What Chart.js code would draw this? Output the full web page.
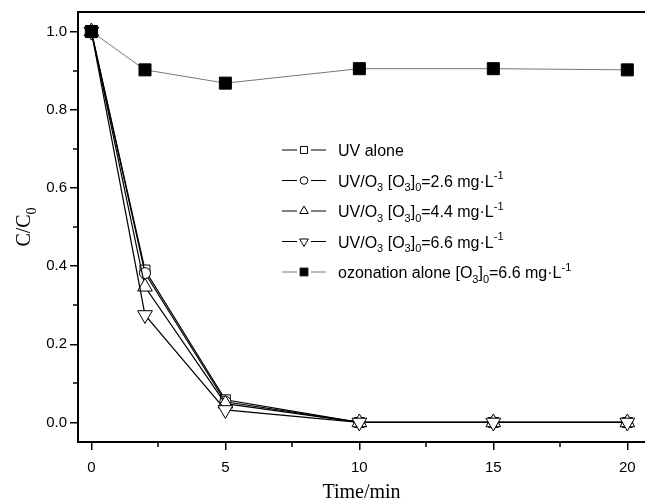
<!DOCTYPE html>
<html><head><meta charset="utf-8">
<script src="https://cdn.jsdelivr.net/npm/chart.js@4"></script>
<style>html,body{margin:0;padding:0;background:#fff;overflow:hidden}</style>
</head><body>
<canvas id="c" width="645" height="502"></canvas>
<script>
// ---- data ----
const times = [0, 2, 5, 10, 15, 20];
const uvAlone = [1.0, 0.39, 0.058, 0.0, 0.0, 0.0];
const uvO3Low = [1.0, 0.382, 0.053, 0.0, 0.0, 0.0];
const uvO3Mid = [1.0, 0.347, 0.048, 0.0, 0.0, 0.0];
const uvO3High = [1.0, 0.275, 0.032, 0.0, 0.0, 0.0];
const ozonationAlone = [1.0, 0.902, 0.868, 0.905, 0.905, 0.902];
const seriesNames = ['UV alone', 'UV/O3 [O3]0=2.6 mg·L-1', 'UV/O3 [O3]0=4.4 mg·L-1', 'UV/O3 [O3]0=6.6 mg·L-1', 'ozonation alone [O3]0=6.6 mg·L-1'];
// rich label pieces: n = normal, b = subscript, p = superscript
const legendParts = [
  [['UV alone','n']],
  [['UV/O','n'],['3','b'],[' [O','n'],['3','b'],[']','n'],['0','b'],['=2.6 mg·L','n'],['-1','p']],
  [['UV/O','n'],['3','b'],[' [O','n'],['3','b'],[']','n'],['0','b'],['=4.4 mg·L','n'],['-1','p']],
  [['UV/O','n'],['3','b'],[' [O','n'],['3','b'],[']','n'],['0','b'],['=6.6 mg·L','n'],['-1','p']],
  [['ozonation alone [O','n'],['3','b'],[']','n'],['0','b'],['=6.6 mg·L','n'],['-1','p']]
];
const yTitleParts = [['C/C','n'],['0','b']];
const xTitle = 'Time/min';
const xTicks = [0, 5, 10, 15, 20];
const yTicks = [0, 0.2, 0.4, 0.6, 0.8, 1.0];
const xMinorTicks = [2.5, 7.5, 12.5, 17.5];
const yMinorTicks = [0.1, 0.3, 0.5, 0.7, 0.9];

const seriesValues = [uvAlone, uvO3Low, uvO3Mid, uvO3High, ozonationAlone];
const styles = [
  {pointStyle:'rect', radius:7, rotation:0, fill:'#fff', line:'#000', lw:1.2, order:5, lr:5},
  {pointStyle:'circle', radius:5.5, rotation:0, fill:'#fff', line:'#000', lw:1.2, order:4, lr:3.8},
  {pointStyle:'triangle', radius:8.5, rotation:0, fill:'#fff', line:'#000', lw:1.2, order:3, lr:5},
  {pointStyle:'triangle', radius:8.5, rotation:180, fill:'#fff', line:'#000', lw:1.2, order:2, lr:5},
  {pointStyle:'rect', radius:8.5, rotation:0, fill:'#000', line:'#777', lw:1, order:1, lr:5.5}
];

const datasets = seriesValues.map((vals, i) => ({
  label: seriesNames[i],
  data: times.map((t, j) => ({x: t, y: vals[j]})),
  borderColor: styles[i].line,
  borderWidth: styles[i].lw,
  pointStyle: styles[i].pointStyle,
  pointRadius: styles[i].radius,
  pointRotation: styles[i].rotation,
  pointBackgroundColor: styles[i].fill,
  pointBorderColor: '#000',
  pointBorderWidth: 1,
  tension: 0,
  fill: false,
  order: styles[i].order,
  clip: false
}));

const SANS = '"Liberation Sans", Arial, sans-serif';
const SERIF = '"Liberation Serif", "Times New Roman", serif';

function richWidth(ctx, parts, size, family) {
  let w = 0;
  parts.forEach(([t, k]) => {
    const s = k === 'n' ? size : Math.round(size * 0.68);
    ctx.font = s + 'px ' + family;
    w += ctx.measureText(t).width;
  });
  return w;
}
function drawRich(ctx, parts, x, y, size, family) {
  ctx.textBaseline = 'alphabetic';
  ctx.textAlign = 'left';
  parts.forEach(([t, k]) => {
    const s = k === 'n' ? size : Math.round(size * 0.68);
    ctx.font = s + 'px ' + family;
    let dy = 0;
    if (k === 'b') dy = size * 0.3;
    if (k === 'p') dy = -size * 0.45;
    ctx.fillText(t, x, y + dy);
    x += ctx.measureText(t).width;
  });
}
function drawMarker(ctx, st, x, y, r) {
  ctx.save();
  ctx.beginPath();
  if (st.pointStyle === 'rect') {
    const h = r * Math.SQRT1_2;
    ctx.rect(x - h, y - h, 2 * h, 2 * h);
  } else if (st.pointStyle === 'circle') {
    ctx.arc(x, y, r, 0, Math.PI * 2);
  } else {
    const dir = st.rotation === 180 ? -1 : 1;
    ctx.moveTo(x, y - dir * r);
    ctx.lineTo(x + r * 0.866, y + dir * r * 0.5);
    ctx.lineTo(x - r * 0.866, y + dir * r * 0.5);
    ctx.closePath();
  }
  ctx.fillStyle = st.fill;
  ctx.fill();
  ctx.lineWidth = 1;
  ctx.strokeStyle = '#000';
  ctx.stroke();
  ctx.restore();
}

const decor = {
  id: 'decor',
  afterDraw(chart) {
    const ctx = chart.ctx;
    const a = chart.chartArea;
    const xs = chart.scales.x, ys = chart.scales.y;
    ctx.save();
    // top frame line
    ctx.strokeStyle = '#000';
    ctx.lineWidth = 2;
    ctx.beginPath();
    ctx.moveTo(a.left - 1, a.top);
    ctx.lineTo(chart.width, a.top);
    ctx.stroke();
    // minor ticks
    ctx.lineWidth = 1.5;
    ctx.beginPath();
    xMinorTicks.forEach(v => {
      const px = Math.round(xs.getPixelForValue(v));
      ctx.moveTo(px, a.bottom);
      ctx.lineTo(px, a.bottom + 5);
    });
    yMinorTicks.forEach(v => {
      const py = Math.round(ys.getPixelForValue(v));
      ctx.moveTo(a.left, py);
      ctx.lineTo(a.left - 5, py);
    });
    ctx.stroke();
    // legend
    const lx = a.left + 204, ly0 = a.top + 138, step = 30.5;
    legendParts.forEach((parts, i) => {
      const st = styles[i];
      const y = ly0 + i * step;
      ctx.strokeStyle = st.line;
      ctx.lineWidth = st.lw;
      ctx.beginPath();
      ctx.moveTo(lx, y); ctx.lineTo(lx + 15, y);
      ctx.moveTo(lx + 29, y); ctx.lineTo(lx + 44, y);
      ctx.stroke();
      drawMarker(ctx, st, lx + 22, y, st.lr);
      ctx.fillStyle = '#000';
      drawRich(ctx, parts, lx + 56, y + 6, 16, SANS);
    });
    // y title
    ctx.save();
    ctx.translate(30, (a.top + a.bottom) / 2);
    ctx.rotate(-Math.PI / 2);
    ctx.fillStyle = '#000';
    const w = richWidth(ctx, yTitleParts, 20, SERIF);
    drawRich(ctx, yTitleParts, -w / 2, 0, 20, SERIF);
    ctx.restore();
    ctx.restore();
  }
};

new Chart(document.getElementById('c'), {
  type: 'line',
  data: {datasets},
  plugins: [decor],
  options: {
    responsive: false,
    animation: false,
    layout: {autoPadding: false, padding: {top: 12, right: 0, left: 0, bottom: 0}},
    plugins: {legend: {display: false}, tooltip: {enabled: false}},
    scales: {
      x: {
        type: 'linear', min: -0.5, max: 20.66,
        afterBuildTicks: s => { s.ticks = xTicks.map(v => ({value: v})); },
        afterFit: s => { s.height = 60; },
        ticks: {color: '#000', font: {family: SANS, size: 15}, padding: 9, maxRotation: 0, autoSkip: false, callback: v => String(v)},
        grid: {display: true, drawOnChartArea: false, drawTicks: true, tickLength: 8, color: '#000', lineWidth: 1.5},
        border: {display: true, color: '#000', width: 2},
        title: {display: true, text: xTitle, color: '#000', font: {family: SERIF, size: 20}, padding: {top: 0, bottom: -3}}
      },
      y: {
        type: 'linear', min: -0.05, max: 1.05,
        afterBuildTicks: s => { s.ticks = yTicks.map(v => ({value: v})); },
        afterFit: s => { s.width = 78; },
        ticks: {color: '#000', font: {family: SANS, size: 15}, padding: 3, autoSkip: false, callback: v => v.toFixed(1)},
        grid: {display: true, drawOnChartArea: false, drawTicks: true, tickLength: 8, color: '#000', lineWidth: 1.5},
        border: {display: true, color: '#000', width: 2}
      }
    }
  }
});
</script>
</body></html>
